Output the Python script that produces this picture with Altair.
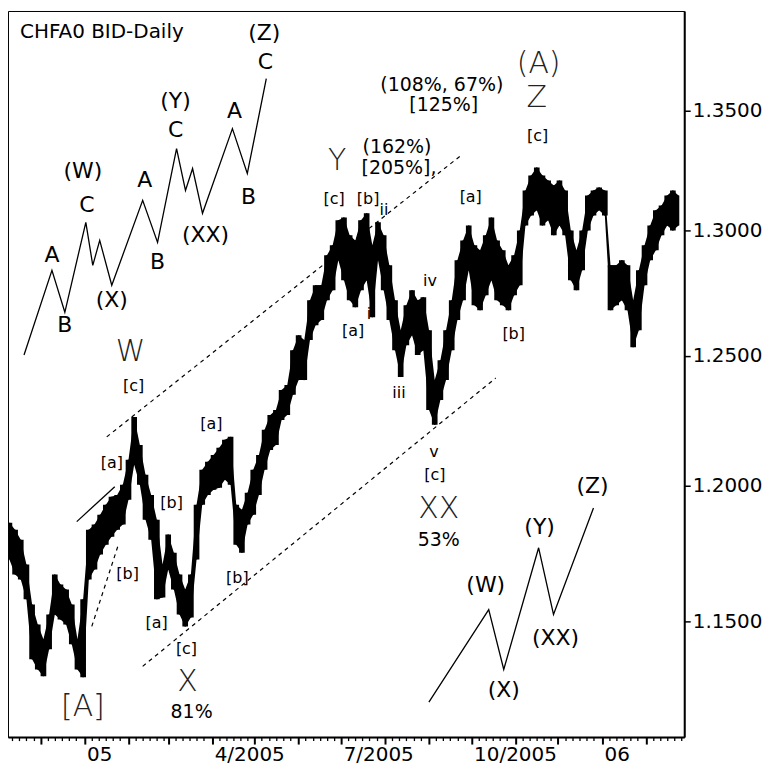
import altair as alt
import pandas as pd

START = pd.Timestamp("2004-11-08")

# ---- daily bar envelope (high / low), sampled every 4 days from 2004-11-09 ----
bar_high = [1.1862, 1.1836, 1.1799, 1.1707, 1.1561, 1.1489, 1.1436, 1.1525, 1.1671, 1.1634,
            1.1616, 1.1561, 1.1436, 1.1580, 1.1836, 1.1855, 1.1892, 1.1929, 1.1959, 1.1966,
            1.2004, 1.2099, 1.2262, 1.2155, 1.2042, 1.1966, 1.1873, 1.1707, 1.1818, 1.1751,
            1.1671, 1.1616, 1.1671, 1.1929, 1.2061, 1.2091, 1.2117, 1.2144, 1.2175, 1.2186,
            1.1929, 1.1910, 1.1974, 1.2061, 1.2117, 1.2213, 1.2270, 1.2289, 1.2367, 1.2386,
            1.2522, 1.2581, 1.2562, 1.2720, 1.2780, 1.2780, 1.2901, 1.2941, 1.3043, 1.3055,
            1.2982, 1.2961, 1.3043, 1.3072, 1.2941, 1.3035, 1.2982, 1.2860, 1.2720, 1.2601,
            1.2700, 1.2760, 1.2720, 1.2732, 1.2601, 1.2405, 1.2483, 1.2601, 1.2720, 1.2881,
            1.2961, 1.3022, 1.2941, 1.2921, 1.2982, 1.3055, 1.2961, 1.2921, 1.2860, 1.2901,
            1.3002, 1.3166, 1.3228, 1.3261, 1.3228, 1.3207, 1.3187, 1.3207, 1.3166, 1.3002,
            1.2921, 1.3002, 1.3145, 1.3166, 1.3178, 1.3166, 1.2860, 1.2860, 1.2881, 1.2860,
            1.2720, 1.2840, 1.2941, 1.3022, 1.3084, 1.3104, 1.3145, 1.3166, 1.3145]
bar_low = [1.1726, 1.1671, 1.1652, 1.1580, 1.1364, 1.1328, 1.1304, 1.1400, 1.1525, 1.1507,
           1.1489, 1.1418, 1.1328, 1.1300, 1.1652, 1.1689, 1.1744, 1.1780, 1.1810, 1.1836,
           1.1855, 1.1948, 1.2080, 1.2004, 1.1873, 1.1799, 1.1580, 1.1587, 1.1689, 1.1616,
           1.1525, 1.1482, 1.1514, 1.1726, 1.1929, 1.1966, 1.1985, 1.1993, 1.2023, 1.2004,
           1.1780, 1.1751, 1.1855, 1.1892, 1.1966, 1.2061, 1.2136, 1.2155, 1.2251, 1.2270,
           1.2348, 1.2405, 1.2405, 1.2562, 1.2621, 1.2641, 1.2720, 1.2760, 1.2881, 1.2800,
           1.2720, 1.2692, 1.2760, 1.2800, 1.2652, 1.2881, 1.2760, 1.2641, 1.2522, 1.2417,
           1.2542, 1.2581, 1.2503, 1.2522, 1.2289, 1.2232, 1.2328, 1.2405, 1.2522, 1.2641,
           1.2720, 1.2840, 1.2700, 1.2680, 1.2740, 1.2800, 1.2720, 1.2700, 1.2680, 1.2740,
           1.2780, 1.3022, 1.3063, 1.3084, 1.3022, 1.3043, 1.2982, 1.3022, 1.2982, 1.2800,
           1.2760, 1.2840, 1.3002, 1.3063, 1.3084, 1.3063, 1.2680, 1.2700, 1.2720, 1.2680,
           1.2534, 1.2601, 1.2780, 1.2881, 1.2921, 1.2982, 1.3022, 1.3002, 1.3022]
bar_dates = pd.date_range("2004-11-09", periods=len(bar_high), freq="4D")

# ---- channel lines and helper lines (day offset from 2004-11-08, price) ----
upper_days, upper_px = [69.65, 319.4], [1.2186, 1.3311]
lower_days, lower_px = [95.0, 344.0], [1.1339, 1.2413]
solid_days, solid_px = [48.5, 75.3], [1.1866, 1.1997]
dash2_days, dash2_px = [59.1, 77.4], [1.1482, 1.1773]

# ---- schematic wave diagrams ----
diag1_days = [11.3, 31.0, 40.1, 54.9, 59.8, 64.7, 73.2, 95.0, 105.5, 118.9, 125.2, 130.2, 137.2, 158.3, 168.8, 182.2]
diag1_px = [1.2503, 1.2840, 1.2672, 1.3035, 1.2860, 1.2961, 1.2780, 1.3125, 1.2953, 1.3340, 1.3166, 1.3257, 1.3072, 1.3424, 1.3236, 1.3636]
diag2_days = [296.9, 339.1, 349.7, 374.3, 384.8, 413.0]
diag2_px = [1.1212, 1.1543, 1.1328, 1.1769, 1.1525, 1.1917]

# ---- labels ----
big_text = ["W", "Y", "Z", "X", "XX", "(A)", "[A]"]
big_days = [86.5, 232.2, 372.9, 126.6, 303.9, 374.3, 52.8]
big_px = [1.2514, 1.3290, 1.3555, 1.1282, 1.1914, 1.3700, 1.1194]

pct_text = ["(162%)", "[205%],", "(108%, 67%)", "[125%]", "53%", "81%"]
pct_days = [274.4, 275.8, 306.0, 307.4, 303.9, 129.5]
pct_px = [1.3345, 1.3257, 1.3610, 1.3525, 1.1799, 1.1176]

brk_text = ["[c]", "[c]", "[b]", "[a]", "[c]", "[a]", "[c]", "[b]", "[a]", "[a]", "[b]", "[b]", "[b]", "[a]", "[c]"]
brk_days = [88.6, 230.1, 254.0, 326.4, 373.6, 243.4, 301.1, 356.7, 143.5, 73.2, 115.4, 84.4, 161.8, 104.8, 125.9]
brk_px = [1.2382, 1.3129, 1.3129, 1.3137, 1.3395, 1.2597, 1.2042, 1.2585, 1.2236, 1.2087, 1.1936, 1.1674, 1.1656, 1.1493, 1.1400]

rom_text = ["i", "ii", "iii", "iv", "v"]
rom_days = [254.7, 265.2, 275.8, 297.6, 300.4]
rom_px = [1.2664, 1.3084, 1.2355, 1.2796, 1.2128]

dia_text = ["(Z)", "C", "(Y)", "C", "A", "B", "(W)", "C", "A", "(XX)", "A", "B", "(X)", "B",
            "(W)", "(X)", "(Y)", "(XX)", "(Z)"]
dia_days = [180.8, 181.5, 118.2, 118.2, 159.7, 169.6, 52.8, 55.6, 96.4, 139.3, 31.0, 40.1, 73.2, 105.5,
            337.0, 349.7, 375.0, 386.2, 412.3]
dia_px = [1.3833, 1.3709, 1.3542, 1.3420, 1.3500, 1.3137, 1.3245, 1.3104, 1.3211, 1.2982, 1.2901, 1.2621, 1.2720, 1.2873,
          1.1631, 1.1254, 1.1847, 1.1439, 1.2000]


def to_dates(days):
    return [START + pd.Timedelta(days=d) for d in days]


bars = pd.DataFrame({"date": bar_dates, "high": bar_high, "low": bar_low})

line_rows = []
for seg, days, px in [("upper", upper_days, upper_px), ("lower", lower_days, lower_px),
                      ("dash2", dash2_days, dash2_px)]:
    for k, (d, p) in enumerate(zip(to_dates(days), px)):
        line_rows.append({"seg": seg, "ord": k, "date": d, "price": p})
dashed = pd.DataFrame(line_rows)

solid_rows = []
for seg, days, px in [("solid", solid_days, solid_px), ("diag1", diag1_days, diag1_px),
                      ("diag2", diag2_days, diag2_px)]:
    for k, (d, p) in enumerate(zip(to_dates(days), px)):
        solid_rows.append({"seg": seg, "ord": k, "date": d, "price": p})
solid = pd.DataFrame(solid_rows)


def label_df(text, days, px):
    return pd.DataFrame({"label": text, "date": to_dates(days), "price": px})


# ---- scales / axes ----
XS = alt.Scale(domain=[alt.DateTime(year=2004, month=11, date=8),
                       alt.DateTime(year=2006, month=2, date=28)], nice=False)
YS = alt.Scale(type="log", domain=[1.1090, 1.3929], nice=False, zero=False)

tick_vals = []
for (yr, mo) in [(2004, 11), (2004, 12)] + [(2005, m) for m in range(1, 13)] + [(2006, 1), (2006, 2)]:
    for dd in [1, 6, 11, 16, 21, 26]:
        if (yr, mo) == (2004, 11) and dd < 9:
            continue
        tick_vals.append(alt.DateTime(year=yr, month=mo, date=dd))

label_expr = ("date(datum.value) == 1 && month(datum.value) == 0 ? timeFormat(datum.value, '%y') : "
              "(date(datum.value) == 1 && month(datum.value) % 3 == 0 ? "
              "(month(datum.value) + 1) + '/' + year(datum.value) : '')")

XA = alt.Axis(values=tick_vals, labelExpr=label_expr, title=None, grid=False,
              tickSize=7, tickColor="black",
              tickDash={"condition": {"test": "date(datum.value) == 1", "value": [10, 0]}, "value": [3.5, 10]},
              tickWidth={"condition": {"test": "date(datum.value) == 1", "value": 2}, "value": 1.3},
              labelAlign="left", labelOffset=2, labelPadding=0, labelBaseline="top",
              labelFont="DejaVu Sans", labelFontSize=20, labelColor="black",
              labelOverlap=False, labelFlush=False, labelBound=False,
              domainColor="black", domainWidth=2)
YA = alt.Axis(orient="right", values=[1.15, 1.20, 1.25, 1.30, 1.35], format=".4f", title=None, grid=False,
              tickSize=6, tickWidth=1.5, tickColor="black", labelPadding=2,
              labelFont="DejaVu Sans", labelFontSize=20, labelColor="black",
              labelOverlap=False, labelFlush=False, labelBound=False,
              domainColor="black", domainWidth=2)

X = alt.X("date:T", scale=XS, axis=XA)
Y = alt.Y("price:Q", scale=YS, axis=YA)
YL = alt.Y("low:Q", scale=YS, axis=YA)

band = alt.Chart(bars).mark_area(color="black", interpolate="linear", clip=True).encode(
    x=X, y=YL, y2="high:Q")
band_step = alt.Chart(bars).mark_area(color="black", interpolate="step", clip=True).encode(
    x=X, y=YL, y2="high:Q")
spikes = alt.Chart(bars).mark_rule(color="black", strokeWidth=1.5, clip=True).encode(
    x=X, y=YL, y2="high:Q")

dash_layer = alt.Chart(dashed).mark_line(color="black", strokeWidth=1.2, strokeDash=[4, 4]).encode(
    x=X, y=Y, detail="seg:N", order="ord:Q")
solid_layer = alt.Chart(solid).mark_line(color="black", strokeWidth=1.3).encode(
    x=X, y=Y, detail="seg:N", order="ord:Q")


def text_layer(df, size, weight="normal", color="black"):
    return alt.Chart(df).mark_text(font="DejaVu Sans", fontSize=size, fontWeight=weight,
                                   color=color, align="center", baseline="middle").encode(
        x=X, y=Y, text="label:N")


big_layer = text_layer(label_df(big_text, big_days, big_px), 30, 200, "#222222")
pct_layer = text_layer(label_df(pct_text, pct_days, pct_px), 19)
brk_layer = text_layer(label_df(brk_text, brk_days, brk_px), 16)
rom_layer = text_layer(label_df(rom_text, rom_days, rom_px), 16)
dia_layer = text_layer(label_df(dia_text, dia_days, dia_px), 22)

title_layer = alt.Chart(pd.DataFrame({"t": ["CHFA0 BID-Daily"]})).mark_text(
    font="DejaVu Sans", fontSize=20, color="black", align="left", baseline="middle").encode(
    x=alt.value(12), y=alt.value(21), text="t:N")

chart = alt.layer(band, band_step, spikes, dash_layer, solid_layer, big_layer, pct_layer, brk_layer,
                  rom_layer, dia_layer, title_layer).properties(
    width=678, height=728,
    padding={"left": 0, "top": 2, "right": 4, "bottom": 2},
    background="white",
).configure_view(stroke="black", strokeWidth=1)

chart.save("out.html", embed_options={"renderer": "svg", "actions": False})
